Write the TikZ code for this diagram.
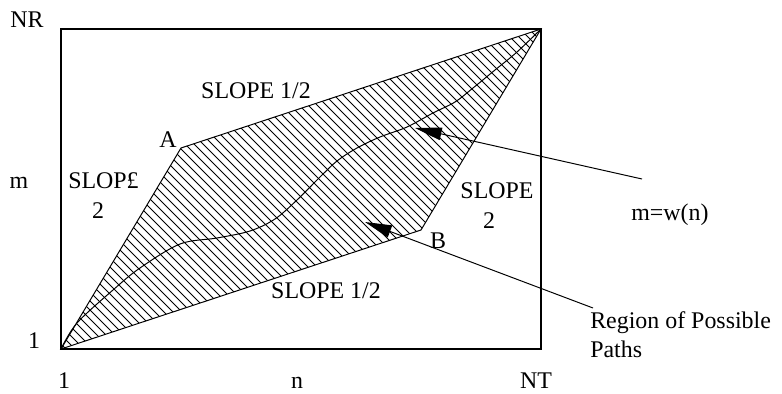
\documentclass[tikz,border=0pt]{standalone}
\usepackage{fontspec}
\setmainfont{Liberation Serif}
\usetikzlibrary{arrows.meta, positioning, calc}
\tikzset{
    lbl/.style={inner sep=0pt, anchor=base, font=\fontsize{17}{20}\selectfont},
    frame/.style={draw, line width=1.4pt},
    edgeline/.style={draw, line width=0.7pt},
    hatchline/.style={draw, line width=0.6pt},
    pathcurve/.style={draw, line width=0.7pt, smooth, tension=0.55},
    pointer/.style={-{Triangle[length=19pt, width=9pt]}, line width=0.7pt}
}

\begin{document}
\begin{tikzpicture}[x=0.025cm, y=-0.025cm]
    \useasboundingbox (0,0) rectangle (782,394);

    % grid corners and region vertices
    \coordinate (ll) at (61,349);
    \coordinate (ur) at (541,29);
    \coordinate (A) at (181,148);
    \coordinate (B) at (421,230);

    \draw[frame] (ll) rectangle (ur);

    % hatched region of possible paths
    \begin{scope}
        \clip (ll) -- (A) -- (ur) -- (B) -- cycle;
        \foreach \i in {-400,-391,...,560}
            \draw[hatchline] (\i,0) -- ++(400,400);
    \end{scope}
    \draw[edgeline] (ll) -- (A) -- (ur) -- (B) -- cycle;

    % warping path
    \draw[pathcurve] plot coordinates {(61,349) (77,323) (113,290) (140,268)
        (180,244) (217,238) (250,231) (275,219) (297,200) (320,177) (337,161)
        (357,148) (380,137) (407,127) (433,113) (455,102) (473,88) (495,70)
        (517,52) (541,29)};

    % axis labels
    \node[lbl] (nr) at (27,28) {NR};
    \node[lbl] (mlab) at (19,188) {m};
    \node[lbl] (one1) at (34,348) {1};
    \node[lbl] (one2) at (64,388) {1};
    \node[lbl] (nlab) at (297,388) {n};
    \node[lbl] (nt) at (536,388) {NT};

    % slope labels
    \node[lbl, anchor=base west] (slleft) at (68,188) {SLOP£};
    \node[lbl] (twoleft) at (98,218) {2};
    \node[lbl] (sltop) at (256,98) {SLOPE 1/2};
    \node[lbl] (slbot) at (326,298) {SLOPE 1/2};
    \node[lbl] (slright) at (497,198) {SLOPE};
    \node[lbl] (tworight) at (489,228) {2};
    \node[lbl] (alab) at (168,147) {A};
    \node[lbl] (blab) at (438,248) {B};

    % annotations
    \node[lbl] (wlab) at (670,220) {m=w(n)};
    \node[lbl, anchor=base west] (reg) at (590,328) {Region of Possible};
    \node[lbl, anchor=base west] (paths) at (590,357) {Paths};
    \coordinate (wtail) at (642,179);
    \coordinate (wtip) at (415,128);
    \coordinate (rtail) at (593,308);
    \coordinate (rtip) at (365,222);

    \draw[pointer] (wtail) -- (wtip);
    \draw[pointer] (rtail) -- (rtip);
\end{tikzpicture}
\end{document}
